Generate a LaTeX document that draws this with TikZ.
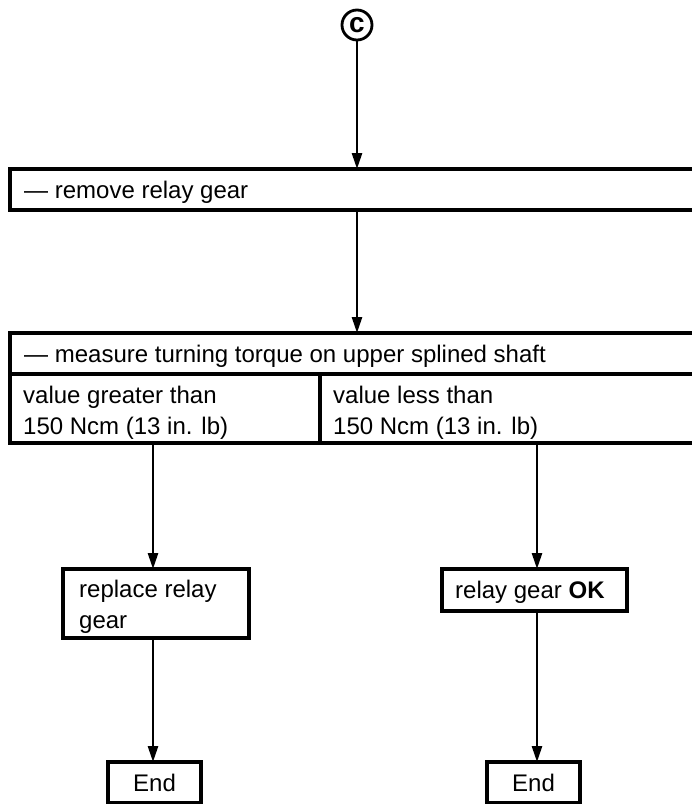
\documentclass[tikz,border=0pt]{standalone}
\usepackage{fontspec}
\setmainfont{Liberation Sans}
\usetikzlibrary{arrows.meta}
\begin{document}
\begin{tikzpicture}[x=1pt,y=-1pt,
  boxline/.style={draw, line width=3.2pt, inner sep=0pt, outer sep=0pt, rectangle},
  arr/.style={line width=2.6pt, -{Triangle[length=16pt,width=10pt]}},
  txt/.style={anchor=base west, inner sep=0pt, font=\fontsize{24}{31}\selectfont},
  endbox/.style={boxline, minimum width=93pt, minimum height=41pt, font=\fontsize{24}{31}\selectfont}]
\clip (0,0) rectangle (692,804);
\fill[white] (0,0) rectangle (692,804);

% connector start
\node[circle, draw, line width=2.8pt, minimum size=30pt, inner sep=0pt,
      font=\fontsize{28}{28}\selectfont\bfseries] (cc) at (357,25) {c};

% remove relay gear
\node[boxline, minimum width=700pt, minimum height=41pt] (remove) at (360,189.5) {};
\node[txt] (tremove) at (24,198) {— remove relay gear};

% measure box
\node[boxline, minimum width=700pt, minimum height=41pt] (measure) at (360,353.5) {};
\node[txt] (tmeasure) at (24,362) {— measure turning torque on upper splined shaft};
\node[boxline, minimum width=310pt, minimum height=69pt] (lcol) at (165,408.5) {};
\node[boxline, minimum width=390pt, minimum height=69pt] (rcol) at (515,408.5) {};
\node[txt] (tl1) at (23,403) {value greater than};
\node[txt] (tl2) at (23,434) {150 Ncm (13 in. lb)};
\node[txt] (tr1) at (333,403) {value less than};
\node[txt] (tr2) at (333,434) {150 Ncm (13 in. lb)};

% results
\node[boxline, minimum width=186pt, minimum height=69pt] (rep) at (156,603.5) {};
\node[txt] (trep1) at (79,597) {replace relay};
\node[txt] (trep2) at (79,628) {gear};
\node[boxline, minimum width=185pt, minimum height=42pt] (ok) at (534.5,590) {};
\node[txt] (tok) at (455,598.5) {relay gear \textbf{OK}};

% ends
\node[endbox] (end1) at (154.5,782.5) {End};
\node[endbox] (end2) at (533.5,782.5) {End};

% connectors
\coordinate (lx) at (153,0);
\coordinate (rx) at (537,0);
\draw[arr] (cc.south) -- (cc.south |- remove.north);
\draw[arr] (cc.south |- remove.south) -- (cc.south |- measure.north);
\draw[arr] (lx |- lcol.south) -- (lx |- rep.north);
\draw[arr] (rx |- rcol.south) -- (rx |- ok.north);
\draw[arr] (lx |- rep.south) -- (lx |- end1.north);
\draw[arr] (rx |- ok.south) -- (rx |- end2.north);
\end{tikzpicture}
\end{document}
